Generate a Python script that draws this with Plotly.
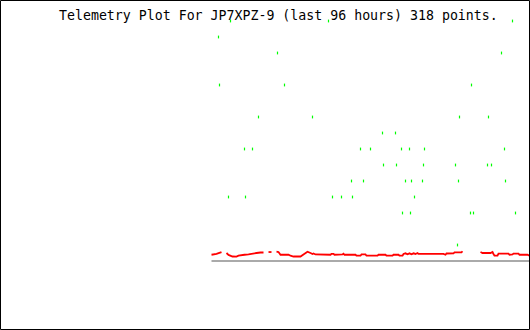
import plotly.graph_objects as go

# ---- data (sample index 0..317, values in plot units) ----
title_text = "Telemetry Plot For JP7XPZ-9 (last 96 hours) 318 points."

green_idx = [7, 8, 17, 19, 33, 34, 41, 47, 66, 73, 101, 117, 121, 130, 140, 141,
             149, 152, 159, 171, 172, 184, 185, 190, 191, 194, 198, 199, 200, 203,
             211, 212, 213, 244, 246, 247, 248, 259, 260, 262, 276, 277, 280, 290,
             293, 294, 301, 304]
green_val = [14, 11, 4, 15, 7, 4, 7, 9, 13, 11, 9, 15, 4, 4, 5, 4,
             7, 5, 7, 8, 6, 8, 6, 7, 3, 5, 7, 3, 5, 4,
             5, 6, 7, 6, 1, 5, 9, 3, 11, 3, 6, 9, 6, 13,
             7, 5, 15, 3]

red_idx = [0, 5, 10, None, 15, 17, 21, 25, 27, 31, 33, 37, 41, 45, 49, 52, None,
           57, 60, None, 65, 67, 69, 77, 79, 82, 89, 92, 96, 99, 101, 102, 104,
           119, 120, 122, 123, 131, 132, 133, 144, 145, 149, 150, 154, 155, 166,
           167, 174, 175, 181, 182, 187, 188, 191, 192, 194, 196, 198, 200, 202,
           204, 206, 207, 232, 234, 235, 242, 243, 250, 251, None, 269, 271, 279,
           281, 282, 283, 286, 287, 297, 298, 301, 302, 307, 308, 316, 317, 318]
red_val = [0.39, 0.44, 0.56, None, 0.50, 0.38, 0.28, 0.27, 0.33, 0.34, 0.39, 0.42,
           0.44, 0.50, 0.53, 0.53, None, 0.56, 0.56, None, 0.58, 0.56, 0.39, 0.39,
           0.33, 0.28, 0.28, 0.41, 0.58, 0.50, 0.44, 0.47, 0.41, 0.39, 0.45, 0.45,
           0.39, 0.41, 0.46, 0.39, 0.39, 0.33, 0.33, 0.41, 0.41, 0.33, 0.33, 0.39,
           0.39, 0.33, 0.33, 0.39, 0.39, 0.33, 0.33, 0.44, 0.48, 0.42, 0.48, 0.42,
           0.48, 0.44, 0.50, 0.44, 0.44, 0.39, 0.47, 0.48, 0.54, 0.54, 0.61, None,
           0.56, 0.50, 0.50, 0.56, 0.44, 0.33, 0.33, 0.46, 0.46, 0.39, 0.41, 0.46,
           0.46, 0.39, 0.39, 0.33, 0.33]

base_idx = [0, 318]
base_val = [0, 0]

fig = go.Figure()
fig.add_trace(go.Scatter(x=base_idx, y=base_val, mode="lines",
                         line=dict(color="#aaaaaa", width=2), hoverinfo="skip"))
fig.add_trace(go.Scatter(x=red_idx, y=red_val, mode="lines", connectgaps=False,
                         line=dict(color="#ff0000", width=1.8), hoverinfo="skip"))
fig.add_trace(go.Scatter(x=green_idx, y=green_val, mode="markers",
                         marker=dict(symbol="line-ns", size=2,
                                     line=dict(color="#00ff00", width=1.2)),
                         hoverinfo="skip"))

W, H = 530, 330
fig.update_layout(
    width=W, height=H,
    margin=dict(l=0, r=0, t=0, b=0),
    paper_bgcolor="white", plot_bgcolor="white",
    showlegend=False,
    xaxis=dict(range=[-211.5, 318.5], visible=False, fixedrange=True),
    yaxis=dict(range=[-69 / 16, 261 / 16], visible=False, fixedrange=True),
    annotations=[dict(text=title_text, xref="paper", yref="paper",
                      x=278.5 / W, y=1 - 16 / H, xanchor="center", yanchor="middle",
                      showarrow=False,
                      font=dict(family="DejaVu Sans Mono", size=13.25, color="black"))],
    shapes=[dict(type="rect", xref="paper", yref="paper",
                 x0=0.5 / W, x1=(W - 0.5) / W, y0=0.5 / H, y1=(H - 0.5) / H,
                 line=dict(color="black", width=1))],
)

fig.write_html("out.html", config={"displayModeBar": False})
